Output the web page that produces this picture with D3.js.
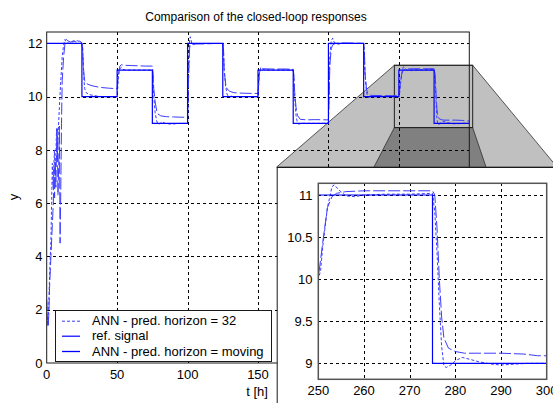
<!DOCTYPE html>
<html>
<head>
<meta charset="utf-8">
<script src="https://cdnjs.cloudflare.com/ajax/libs/d3/7.8.5/d3.min.js"></script>
<style>
  html, body { margin: 0; padding: 0; background: #fff; }
  svg { display: block; }
  text { font-family: Arial, "Liberation Sans", Helvetica, sans-serif; fill: #000; }
</style>
</head>
<body>
<svg id="chart" width="553" height="403"></svg>
<script>
// Reference set-point: levels held between consecutive switch times [h]
const refTimes  = [0, 25, 50, 75, 100, 125, 150, 175, 200, 225, 250, 275, 300];
const refLevels = [12, 10, 11, 9, 12, 10, 11, 9, 12, 10, 11, 9, 9];

// ANN controller, prediction horizon = 32 : [t, y]
const ann32 = [
  [0,2.3],[0.5,1.6],[1,1.4],[1.5,2.2],[2,3.2],[3,4.6],[3.5,6.0],[4,7.5],[4.5,6.6],[5,7.3],
  [5.5,8.0],[6,7.0],[6.5,7.8],[7,8.8],[7.5,7.6],[8,8.5],[9,9.6],[10,10.6],[11,11.5],[12,11.95],
  [13,12.15],[14,12.05],[16,12.0],[18,12.05],[20,12.1],[22,12.1],[24,12.05],[25,12.0],
  [25.5,11.9],[26,11.2],[26.5,10.6],[27,10.3],[28,10.15],[30,10.08],[33,10.05],[36,10.02],[40,10.0],[50,10.0],
  [50.5,10.4],[51,10.8],[52,11.05],[53,11.1],[54,11.03],[56,11.0],[60,11.0],[70,11.0],[75,11.0],
  [75.5,10.8],[76,10.0],[77,9.4],[78,9.1],[79,8.97],[80,8.98],[82,9.05],[84,9.0],[88,8.97],[95,9.0],[100,9.0],
  [100.5,10.0],[101,11.5],[101.5,12.2],[102,12.25],[103,12.0],[104,11.95],[106,12.0],[115,12.0],[125,12.0],
  [125.5,11.8],[126,11.0],[127,10.4],[128,10.1],[129,10.0],[131,10.02],[135,10.0],[150,10.0],
  [150.5,10.4],[151,10.9],[152,11.1],[153,11.05],[155,11.0],[175,11.0],
  [175.5,10.7],[176,10.0],[177,9.3],[178,9.0],[179,8.97],[181,9.0],[185,9.0],[200,9.0],
  [200.5,10.2],[201,11.5],[202,12.1],[203,12.2],[204,12.05],[206,11.97],[210,12.0],[225,12.0],
  [225.5,11.7],[226,10.8],[227,10.2],[228,9.97],[230,10.0],[235,10.02],[250,10.0],
  [250.5,10.1],[251,10.4],[252,10.85],[253,11.1],[253.5,11.12],[254.5,11.06],[256,10.99],[258,10.98],
  [260,11.0],[265,11.01],[270,11.01],[275,11.02],
  [275.5,10.8],[276,10.3],[276.5,9.7],[277,9.2],[277.5,8.97],[278,8.95],[279,8.98],[280,9.03],
  [281.5,9.07],[283,9.05],[285,9.02],[288,8.99],[290,8.98],[293,8.99],[296,9.0],[300,9.0]
];

// ANN controller, moving prediction horizon : [t, y]
const annMoving = [
  [0,2.4],[0.5,1.6],[1,1.35],[1.5,1.8],[2,2.8],[3,4.0],[4,5.2],[4.7,6.0],[5.2,7.3],[5.6,6.2],
  [6,7.6],[6.5,6.6],[7,8.0],[7.5,8.8],[8,6.3],[8.5,7.4],[9,8.9],[9.5,4.5],[10,6.5],[10.5,9.0],
  [11,10.6],[12,11.5],[13,12.0],[14,12.15],[15,12.1],[17,12.05],[19,12.1],[21,12.05],[23,12.1],[24.5,12.05],
  [25.5,11.8],[26,11.2],[26.5,10.8],[27,10.6],[28,10.5],[30,10.45],[33,10.4],[38,10.35],[44,10.32],[50,10.3],
  [50.5,10.6],[51,10.9],[52,11.15],[53,11.2],[55,11.18],[60,11.17],[65,11.16],[70,11.15],[75,11.15],
  [75.5,10.9],[76,10.3],[77,9.8],[78,9.5],[79,9.35],[81,9.28],[85,9.25],[90,9.24],[95,9.23],[100,9.23],
  [100.5,10.2],[101,11.3],[101.5,11.85],[102,11.95],[104,11.98],[110,11.98],[120,12.0],[125,12.0],
  [125.5,11.8],[126,11.0],[127,10.5],[128,10.3],[130,10.2],[133,10.15],[140,10.13],[150,10.12],
  [150.5,10.5],[151,10.9],[152,11.05],[154,11.05],[160,11.04],[170,11.04],[175,11.03],
  [175.5,10.8],[176,10.2],[177,9.6],[178,9.3],[180,9.15],[185,9.13],[190,9.14],[200,9.13],
  [200.5,10.0],[201,11.2],[202,11.8],[203,11.95],[205,12.0],[210,12.02],[220,12.01],[225,12.0],
  [225.5,11.7],[226,10.9],[227,10.3],[228,10.1],[230,10.05],[240,10.04],[250,10.04],
  [250.2,10.1],[251,10.45],[252,10.85],[253,10.98],[254,11.02],[256,11.04],[260,11.05],[265,11.05],
  [270,11.05],[275,11.05],
  [275.5,11.0],[276,10.6],[276.5,10.0],[277,9.55],[277.5,9.3],[278.5,9.18],[280,9.14],[282,9.12],
  [286,9.12],[290,9.12],[295,9.11],[298,9.09],[300,9.09]
];

// Axis ticks
const mainXTicks = [0, 50, 100, 150, 200, 250, 300];
const mainYTicks = [0, 2, 4, 6, 8, 10, 12];
const zoomXTicks = [250, 260, 270, 280, 290, 300];
const zoomYTicks = [9, 9.5, 10, 10.5, 11];

const legendLabels = ["ANN - pred. horizon = 32", "ref. signal", "ANN - pred. horizon = moving"];

// ---------------------------------------------------------------
const svg = d3.select("#chart");
const BLUE = "#0000ff";
const DASH_BLUE = "#3c3cff";
const FRAME = "#1a1a1a";

const x = d3.scaleLinear().domain([0, 300]).range([46.7, 469.3]);
const y = d3.scaleLinear().domain([0, 12.43]).range([363, 32]);

const refSeries = refTimes.map((t, i) => [t, refLevels[i]]);

// main axes background
svg.append("rect")
  .attr("x", x(0)).attr("y", y(12.43))
  .attr("width", x(300) - x(0)).attr("height", y(0) - y(12.43))
  .attr("fill", "#fff");

// zoom window and its projection onto the inset
const win = { t0: 246.8, t1: 302.4, y0: 8.84, y1: 11.18 };
const wx0 = x(win.t0), wx1 = x(win.t1), wy0 = y(win.y1), wy1 = y(win.y0);
const insetBox = { x: 276.7, y: 167 };

svg.append("polygon")
  .attr("points", [[wx0, wy0], [wx1, wy0], [557, insetBox.y], [insetBox.x, insetBox.y]].join(" "))
  .attr("fill", "#c0c0c0").attr("stroke", "#303030").attr("stroke-width", 0.8);
svg.append("polygon")
  .attr("points", [[wx0, wy1], [wx1, wy1], [486, insetBox.y], [374, insetBox.y]].join(" "))
  .attr("fill", "#808080").attr("stroke", "#303030").attr("stroke-width", 0.8);
svg.append("rect")
  .attr("x", wx0).attr("y", wy0).attr("width", wx1 - wx0).attr("height", wy1 - wy0)
  .attr("fill", "none").attr("stroke", "#202020").attr("stroke-width", 1);

// grid
const mainGrid = svg.append("g").attr("stroke", "#000").attr("stroke-width", 1)
  .attr("stroke-dasharray", "3,3").attr("shape-rendering", "crispEdges");
mainGrid.selectAll("line.gx").data(mainXTicks.slice(1, -1)).join("line")
  .attr("x1", d => Math.round(x(d)) + 0.5).attr("x2", d => Math.round(x(d)) + 0.5)
  .attr("y1", y(12.43)).attr("y2", y(0));
mainGrid.selectAll("line.gy").data(mainYTicks.slice(1)).join("line")
  .attr("y1", d => Math.round(y(d)) + 0.5).attr("y2", d => Math.round(y(d)) + 0.5)
  .attr("x1", x(0)).attr("x2", x(300));

// data lines
svg.append("clipPath").attr("id", "clipMain").append("rect")
  .attr("x", x(0)).attr("y", y(12.43)).attr("width", x(300) - x(0)).attr("height", y(0) - y(12.43));

function drawSeries(g, xs, ys) {
  const line = d3.line().x(d => xs(d[0])).y(d => ys(d[1]));
  const stepLine = d3.line().x(d => xs(d[0])).y(d => ys(d[1])).curve(d3.curveStepAfter);
  g.append("path").attr("d", line(annMoving)).attr("fill", "none")
    .attr("stroke", DASH_BLUE).attr("stroke-width", 1).attr("stroke-dasharray", "12,3");
  g.append("path").attr("d", line(ann32)).attr("fill", "none")
    .attr("stroke", DASH_BLUE).attr("stroke-width", 1).attr("stroke-dasharray", "3,2");
  g.append("path").attr("d", stepLine(refSeries)).attr("fill", "none")
    .attr("stroke", BLUE).attr("stroke-width", 1.2);
}
drawSeries(svg.append("g").attr("clip-path", "url(#clipMain)"), x, y);

// main axes frame
svg.append("rect")
  .attr("x", x(0)).attr("y", y(12.43)).attr("width", x(300) - x(0)).attr("height", y(0) - y(12.43))
  .attr("fill", "none").attr("stroke", FRAME).attr("stroke-width", 1);

// main tick labels
svg.append("g").selectAll("text").data(mainYTicks).join("text")
  .attr("x", 42.5).attr("y", d => y(d)).attr("dy", "0.36em")
  .attr("text-anchor", "end").attr("font-size", 13).text(d => d);
svg.append("g").selectAll("text").data(mainXTicks).join("text")
  .attr("x", d => x(d)).attr("y", 378.5)
  .attr("text-anchor", "middle").attr("font-size", 13).text(d => d);

// titles
svg.append("text").attr("x", 256).attr("y", 21).attr("text-anchor", "middle")
  .attr("font-size", 12).text("Comparison of the closed-loop responses");
svg.append("text").attr("transform", "translate(18,197) rotate(-90)")
  .attr("text-anchor", "middle").attr("font-size", 13).text("y");
svg.append("text").attr("x", 257).attr("y", 396).attr("text-anchor", "middle")
  .attr("font-size", 13).text("t [h]");

// legend
const lg = svg.append("g");
lg.append("rect").attr("x", 55.5).attr("y", 310.5).attr("width", 216).attr("height", 51)
  .attr("fill", "#fff").attr("stroke", FRAME).attr("stroke-width", 1);
const legendStyles = [
  { color: DASH_BLUE, dash: "3,2", w: 1 },
  { color: BLUE, dash: null, w: 1.2 },
  { color: BLUE, dash: null, w: 1.3 }
];
const legendY = [320.7, 335.7, 351];
legendLabels.forEach((lab, i) => {
  lg.append("line").attr("x1", 62).attr("x2", 80).attr("y1", legendY[i] + 0.5).attr("y2", legendY[i] + 0.5)
    .attr("stroke", legendStyles[i].color).attr("stroke-width", legendStyles[i].w)
    .attr("stroke-dasharray", legendStyles[i].dash);
  lg.append("text").attr("x", 92).attr("y", legendY[i]).attr("dy", "0.36em")
    .attr("font-size", 13).text(lab);
});

// ---------------- inset ----------------
svg.append("rect").attr("x", insetBox.x + 0.5).attr("y", insetBox.y + 0.5)
  .attr("width", 600 - insetBox.x).attr("height", 300)
  .attr("fill", "#fff").attr("stroke", FRAME).attr("stroke-width", 1);

const xi = d3.scaleLinear().domain([250, 300]).range([318.3, 546.7]);
const yi = d3.scaleLinear().domain([8.81, 11.139]).range([379.3, 183.3]);

const insetGrid = svg.append("g").attr("stroke", "#000").attr("stroke-width", 1)
  .attr("stroke-dasharray", "3,3").attr("shape-rendering", "crispEdges");
insetGrid.selectAll("line.gx").data(zoomXTicks.slice(1, -1)).join("line")
  .attr("x1", d => Math.round(xi(d)) + 0.5).attr("x2", d => Math.round(xi(d)) + 0.5)
  .attr("y1", yi(11.139)).attr("y2", yi(8.81));
insetGrid.selectAll("line.gy").data(zoomYTicks).join("line")
  .attr("y1", d => Math.round(yi(d)) + 0.5).attr("y2", d => Math.round(yi(d)) + 0.5)
  .attr("x1", xi(250)).attr("x2", xi(300));

svg.append("clipPath").attr("id", "clipInset").append("rect")
  .attr("x", xi(250)).attr("y", yi(11.139)).attr("width", xi(300) - xi(250)).attr("height", yi(8.81) - yi(11.139));
drawSeries(svg.append("g").attr("clip-path", "url(#clipInset)"), xi, yi);

svg.append("rect")
  .attr("x", xi(250)).attr("y", yi(11.139)).attr("width", xi(300) - xi(250)).attr("height", yi(8.81) - yi(11.139))
  .attr("fill", "none").attr("stroke", "#555").attr("stroke-width", 1.5);

svg.append("g").selectAll("text").data(zoomYTicks).join("text")
  .attr("x", 312.5).attr("y", d => yi(d)).attr("dy", "0.36em")
  .attr("text-anchor", "end").attr("font-size", 13).text(d => d);
svg.append("g").selectAll("text").data(zoomXTicks).join("text")
  .attr("x", d => xi(d)).attr("y", 395)
  .attr("text-anchor", "middle").attr("font-size", 13).text(d => d);
</script>
</body>
</html>
